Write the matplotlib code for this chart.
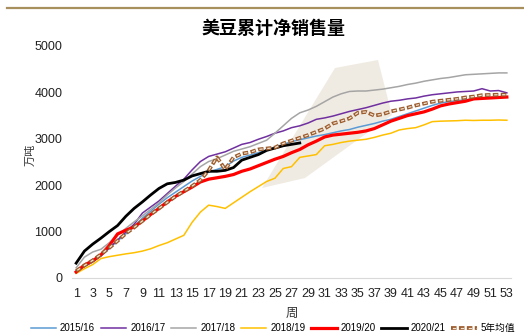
import matplotlib
matplotlib.use("Agg")
import matplotlib.pyplot as plt
from matplotlib.lines import Line2D
from matplotlib.patches import Polygon

plt.rcParams['font.family'] = ['Liberation Sans', 'Noto Sans CJK SC']
plt.rcParams['lines.scale_dashes'] = False

weeks = list(range(1, 54))

s1516 = [150, 250, 350, 480, 640, 800, 950, 1120, 1290, 1440, 1590, 1730, 1850, 1970, 2090, 2190,
         2280, 2340, 2400, 2520, 2600, 2650, 2700, 2760, 2820, 2880, 2940, 2980, 3020, 3060, 3090,
         3130, 3170, 3200, 3250, 3290, 3330, 3380, 3420, 3480, 3540, 3600, 3660, 3720, 3770, 3800,
         3820, 3840, 3860, 3880, 3890, 3900, 3900]
s1617 = [130, 250, 350, 480, 650, 820, 990, 1160, 1400, 1530, 1660, 1820, 1980, 2130, 2330, 2510,
         2620, 2670, 2720, 2800, 2880, 2920, 2990, 3050, 3120, 3170, 3240, 3280, 3340, 3420, 3450,
         3490, 3540, 3590, 3630, 3670, 3720, 3770, 3810, 3830, 3860, 3880, 3920, 3950, 3970, 3990,
         4010, 4020, 4030, 4080, 4030, 4040, 3990]
s1718 = [220, 450, 560, 620, 760, 920, 1070, 1210, 1340, 1480, 1620, 1790, 1940, 2080, 2240, 2400,
         2510, 2570, 2650, 2730, 2780, 2830, 2900, 2970, 3120, 3280, 3440, 3560, 3620, 3700, 3800,
         3900, 3970, 4020, 4030, 4030, 4050, 4070, 4100, 4130, 4170, 4200, 4240, 4270, 4300, 4320,
         4350, 4380, 4390, 4400, 4410, 4420, 4420]
s1819 = [100, 200, 290, 420, 460, 490, 520, 545, 580, 630, 700, 760, 840, 920, 1200, 1420,
         1570, 1540, 1500, 1620, 1740, 1860, 1970, 2080, 2150, 2360, 2400, 2600, 2630, 2660, 2850,
         2880, 2920, 2950, 2970, 2990, 3030, 3080, 3120, 3190, 3220, 3240, 3300, 3370, 3380, 3385,
         3390, 3400, 3395, 3400, 3400, 3405, 3400]
s1920 = [130, 280, 370, 500, 700, 950, 1030, 1100, 1230, 1370, 1500, 1640, 1760, 1860, 1960, 2070,
         2130, 2160, 2190, 2230, 2300, 2350, 2420, 2490, 2560, 2620, 2700, 2770, 2870, 2950, 3040,
         3080, 3100, 3120, 3140, 3170, 3220, 3300, 3380, 3440, 3500, 3540, 3580, 3640, 3710, 3750,
         3780, 3810, 3860, 3870, 3880, 3890, 3900]
s2021 = [320, 580, 730, 860, 1000, 1130, 1330, 1500, 1640, 1790, 1930, 2030, 2060, 2110, 2200, 2250,
         2300, 2300, 2320, 2380, 2540, 2600, 2660, 2750, 2800, 2850, 2880, 2910]
avg5 = [150, 270, 380, 510, 650, 800, 960, 1090, 1230, 1370, 1500, 1630, 1760, 1870, 1980, 2110,
        2320, 2600, 2340, 2600, 2680, 2710, 2770, 2790, 2810, 2900, 2960, 3020, 3080, 3150, 3220,
        3330, 3380, 3440, 3560, 3580, 3500, 3530, 3590, 3630, 3670, 3720, 3760, 3800, 3820, 3840,
        3860, 3890, 3910, 3940, 3945, 3950, 3950]

series = [
    ('2015/16', s1516, '#5b9bd5', 1.1),
    ('2016/17', s1617, '#7030a0', 1.1),
    ('2017/18', s1718, '#a5a5a5', 1.1),
    ('2018/19', s1819, '#ffc000', 1.1),
    ('2019/20', s1920, '#ff0000', 2.3),
    ('2020/21', s2021, '#000000', 2.0),
]

fig = plt.figure(figsize=(5.24, 3.35), dpi=100)

# top rule
fig.add_artist(Line2D([7 / 524, 1.0], [1 - 8 / 335] * 2, color='#a8905e', lw=1.6))

# watermark block
wm = [(262, 188), (335, 68), (378, 60), (392, 115), (305, 178)]
fig.add_artist(Polygon([(x / 524, 1 - y / 335) for x, y in wm],
                       closed=True, facecolor='#f0ebe2', edgecolor='none', zorder=0))

ax = fig.add_axes([72 / 524, 1 - 278 / 335, (511 - 72) / 524, (278 - 46) / 335])
ax.patch.set_alpha(0)

handles = []
for name, vals, col, lw in series:
    ln, = ax.plot(weeks[:len(vals)], vals, color=col, lw=lw, label=name)
    handles.append(ln)

outer, = ax.plot(weeks, avg5, color='#9c5b2c', lw=2.7, linestyle=(0, (4.0, 1.7)), solid_capstyle='butt')
inner, = ax.plot(weeks, avg5, color='#f3e4d2', lw=0.9, linestyle=(4.7, (2.4, 3.3)))
handles.append((outer, inner))

ax.set_xlim(0.5, 53.5)
ax.set_ylim(0, 5000)
ax.set_yticks(range(0, 5001, 1000))
ax.set_xticks(range(1, 54, 2))
ax.tick_params(axis='both', length=0, labelsize=9, colors='#222222')
ax.tick_params(axis='y', pad=7)
ax.tick_params(axis='x', pad=7)
for s in ['top', 'right', 'left']:
    ax.spines[s].set_visible(False)
ax.spines['bottom'].set_color('#d9d9d9')
ax.spines['bottom'].set_linewidth(0.8)

fig.text(273 / 524, 1 - 28 / 335, '美豆累计净销售量', ha='center', va='center',
         fontsize=13, fontweight='bold', family='Noto Sans CJK SC')
fig.text(31 / 524, 1 - 155 / 335, '万吨', rotation=90, ha='center', va='center',
         fontsize=8, family='Noto Sans CJK SC', color='#333333')
fig.text(292 / 524, 1 - 313 / 335, '周', ha='center', va='center',
         fontsize=9, family='Noto Sans CJK SC', color='#333333')

labels = [s[0] for s in series] + ['5年均值']
fig.legend(handles, labels, loc='center', bbox_to_anchor=(273 / 524, 1 - 328 / 335), ncol=7,
           frameon=False, fontsize=7, handlelength=2.6, handletextpad=0.4, columnspacing=0.6,
           borderpad=0.1)

fig.savefig('out.png', dpi=100)
